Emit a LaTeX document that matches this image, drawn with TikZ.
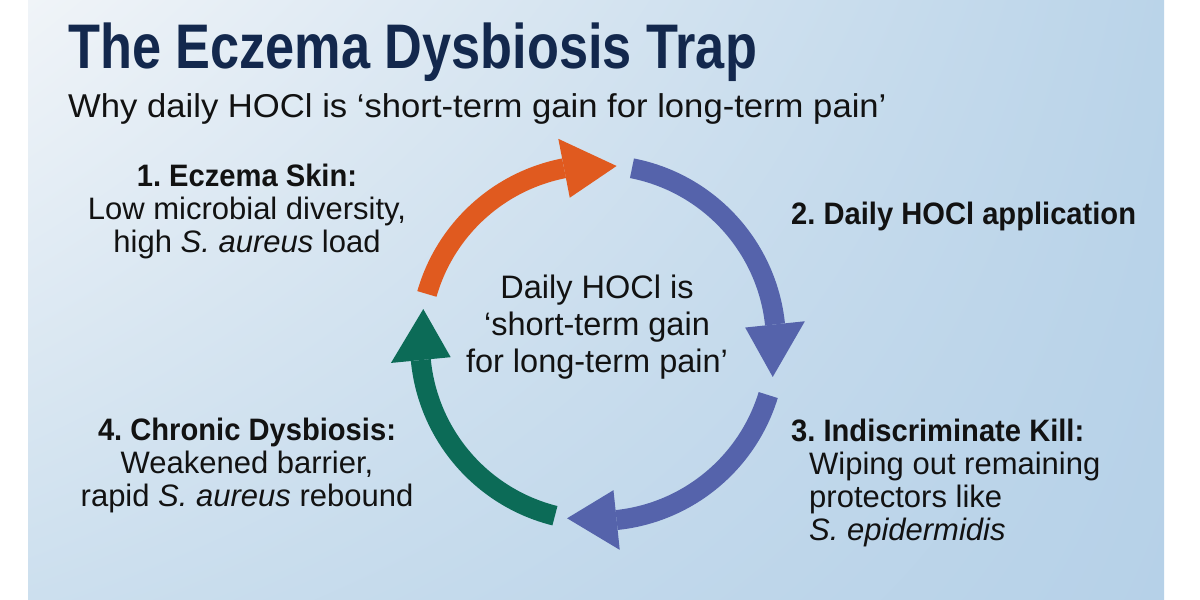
\documentclass[tikz,border=0pt]{standalone}
\usepackage{fontspec}
\setmainfont{Liberation Sans}[BoldFeatures={FakeStretch=0.94}]
\newfontfamily\titlefont{Liberation Sans}[FakeStretch=0.83]
\newfontfamily\subfont{Liberation Sans}[FakeStretch=1.05]
\usetikzlibrary{shadings,calc}
\frenchspacing
\begin{document}
\begin{tikzpicture}[x=1pt,y=-1pt,
  lbl/.style={inner sep=0pt,text=black!93,font=\fontsize{31}{33}\selectfont},
  ring/.style={line width=20pt},
]
\definecolor{navy}{HTML}{13284D}
\definecolor{corange}{HTML}{E05A1F}
\definecolor{cblue}{HTML}{5563AB}
\definecolor{cgreen}{HTML}{0C6B57}
\definecolor{bgA}{HTML}{F0F4F8}
\definecolor{bgB}{HTML}{BAD4E9}
\definecolor{bgC}{HTML}{CCDFEE}
\definecolor{bgD}{HTML}{B6D1E8}
\useasboundingbox (0,0) rectangle (1200,600);
\fill[white] (0,0) rectangle (1200,600);
\shade[upper left=bgA, upper right=bgB, lower left=bgC, lower right=bgD] (28,0) rectangle (1164,600);

% title
\node[anchor=base west,inner sep=0pt,text=navy,font=\fontsize{63}{70}\titlefont\bfseries] (title) at (68,68) {The Eczema Dysbiosis Trap};
\node[anchor=base west,inner sep=0pt,text=black!93,font=\fontsize{33}{36}\subfont] (subtitle) at (68,117) {Why daily HOCl is ‘short-term gain for long-term pain’};

% cycle
\coordinate (c) at (598,343);
% orange
\draw[ring,corange] (c) ++(196:178) arc[start angle=196,end angle=259,radius=178];
\fill[corange] ($(c)+(259:148)$) -- ($(c)+(276:178)$) -- ($(c)+(259:208)$) -- cycle;
% blue 1
\draw[ring,cblue] (c) ++(281:178) arc[start angle=281,end angle=354,radius=178];
\fill[cblue] ($(c)+(354:148)$) -- ($(c)+(371:178)$) -- ($(c)+(354:208)$) -- cycle;
% blue 2
\draw[ring,cblue] (c) ++(17:178) arc[start angle=17,end angle=84,radius=178];
\fill[cblue] ($(c)+(84:148)$) -- ($(c)+(100:178)$) -- ($(c)+(84:208)$) -- cycle;
% green
\draw[ring,cgreen] (c) ++(104:178) arc[start angle=104,end angle=174.5,radius=178];
\fill[cgreen] ($(c)+(174.5:148)$) -- ($(c)+(191:178)$) -- ($(c)+(174.5:208)$) -- cycle;

% center text (anchor base = last line)
\node[lbl,align=center,anchor=base,font=\fontsize{32.5}{37}\selectfont] (centre) at (597,372) {Daily HOCl is\\‘short-term gain\\for long-term pain’};

% labels
\node[lbl,align=center,anchor=base] (l1) at (247,252) {\textbf{1. Eczema Skin:}\\Low microbial diversity,\\high \textit{S. aureus} load};
\node[lbl,anchor=base west] (l2) at (791,224) {\textbf{2. Daily HOCl application}};
\node[lbl,align=left,anchor=base west] (l3) at (791,540) {\textbf{3. Indiscriminate Kill:}\\\hspace*{18pt}Wiping out remaining\\\hspace*{18pt}protectors like\\\hspace*{18pt}\textit{S. epidermidis}};
\node[lbl,align=center,anchor=base] (l4) at (247,506) {\textbf{4. Chronic Dysbiosis:}\\Weakened barrier,\\rapid \textit{S. aureus} rebound};
\end{tikzpicture}
\end{document}
